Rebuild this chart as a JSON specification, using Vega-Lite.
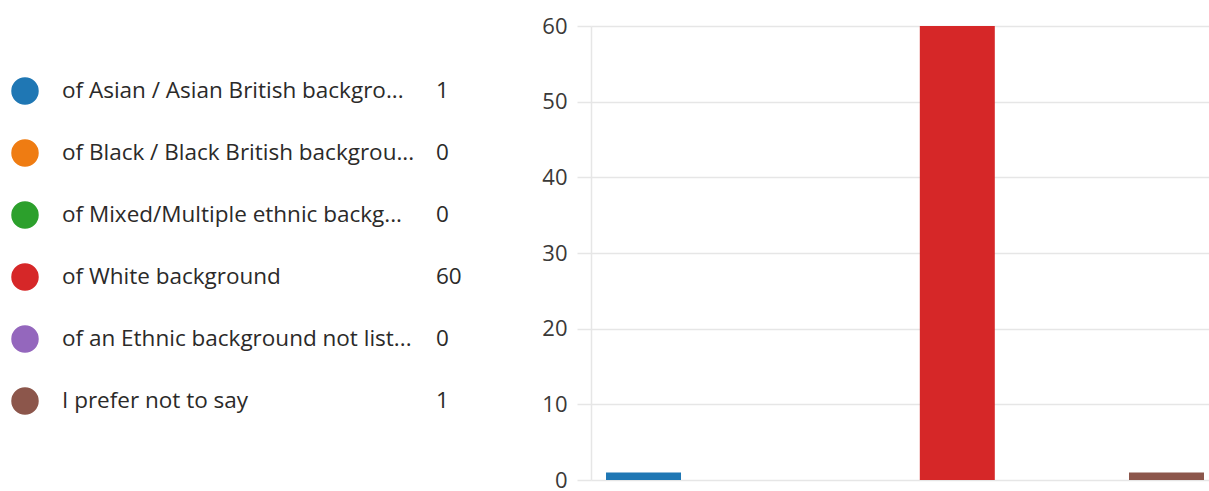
{
  "$schema": "https://vega.github.io/schema/vega-lite/v6.json",
  "background": "white",
  "padding": {"left": 0, "top": 15, "right": 0, "bottom": 0},
  "bounds": "flush",
  "spacing": 541,
  "data": {
    "values": [
      {"label": "of Asian / Asian British backgro...", "count": 1},
      {"label": "of Black / Black British backgrou...", "count": 0},
      {"label": "of Mixed/Multiple ethnic backg...", "count": 0},
      {"label": "of White background", "count": 60},
      {"label": "of an Ethnic background not list...", "count": 0},
      {"label": "I prefer not to say", "count": 1}
    ]
  },
  "resolve": {"scale": {"color": "shared"}},
  "hconcat": [
    {
      "width": 50,
      "height": 454,
      "encoding": {
        "y": {
          "field": "label",
          "type": "nominal",
          "sort": null,
          "axis": null,
          "scale": {"type": "band", "paddingInner": 0, "paddingOuter": 0.6613, "align": 0.4146}
        }
      },
      "layer": [
        {
          "mark": {"type": "point", "shape": "circle", "filled": true, "opacity": 1, "size": 755},
          "encoding": {
            "color": {
              "field": "label",
              "type": "nominal",
              "sort": null,
              "legend": null,
              "scale": {"range": ["#1f77b4", "#ef7c12", "#2ca02c", "#d62728", "#9467bd", "#8c564b"]}
            }
          }
        },
        {
          "transform": [{"fold": ["label", "count"], "as": ["key", "value"]}],
          "mark": {"type": "text", "align": "left", "baseline": "middle", "fontSize": 22.5, "font": "Open Sans", "color": "#2b2a29"},
          "encoding": {
            "x": {
              "field": "key",
              "type": "nominal",
              "axis": null,
              "scale": {"type": "point", "domain": ["label", "count"], "range": [62, 436], "padding": 0}
            },
            "text": {"field": "value"}
          }
        }
      ]
    },
    {
      "width": 618,
      "height": 454,
      "mark": {"type": "bar"},
      "encoding": {
        "x": {
          "field": "label",
          "type": "nominal",
          "sort": null,
          "axis": null,
          "scale": {"paddingInner": 0.283, "paddingOuter": 0.0957, "align": 0.75}
        },
        "y": {
          "field": "count",
          "type": "quantitative",
          "scale": {"domain": [0, 60]},
          "axis": {
            "title": null,
            "values": [0, 10, 20, 30, 40, 50, 60],
            "grid": true,
            "gridColor": "#e6e6e6",
            "gridWidth": 1.5,
            "domainColor": "#e6e6e6",
            "domainWidth": 1.5,
            "tickColor": "#e6e6e6",
            "tickWidth": 1.5,
            "tickSize": 14,
            "labelPadding": 10,
            "labelFontSize": 22,
            "labelFont": "Open Sans",
            "labelColor": "#3a3938"
          }
        },
        "color": {
          "field": "label",
          "type": "nominal",
          "sort": null,
          "legend": null,
          "scale": {"range": ["#1f77b4", "#ef7c12", "#2ca02c", "#d62728", "#9467bd", "#8c564b"]}
        }
      }
    }
  ],
  "config": {"view": {"stroke": null}}
}
